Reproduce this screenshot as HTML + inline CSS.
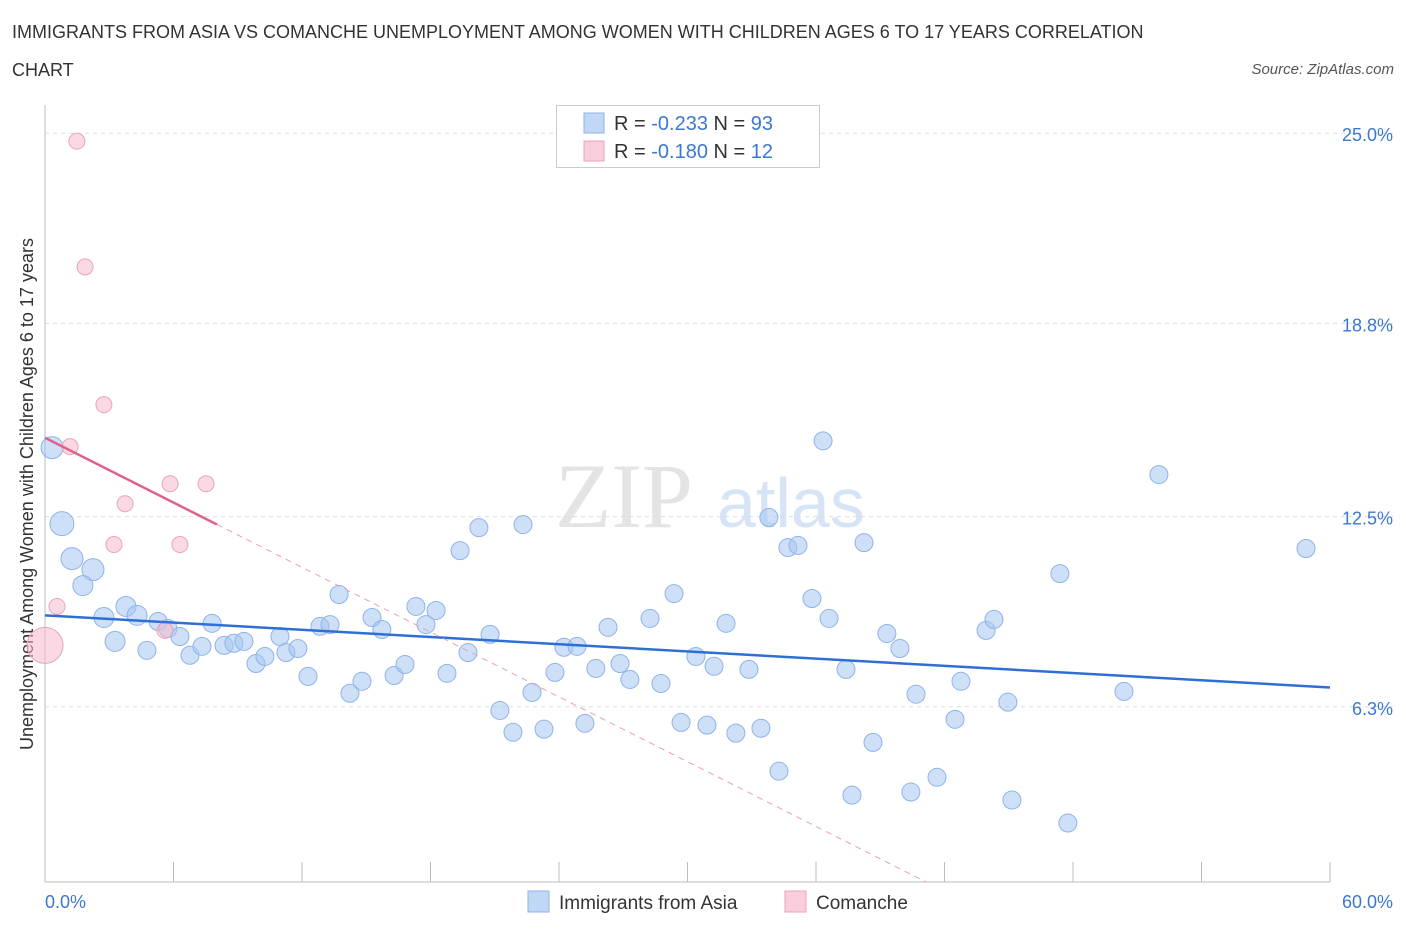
<!DOCTYPE html>
<html><head><meta charset="utf-8">
<style>
body{margin:0;background:#fff;font-family:"Liberation Sans",sans-serif;}
#wrap{position:relative;width:1406px;height:930px;overflow:hidden;}
.t{position:absolute;color:#333;font-size:18px;}
</style></head>
<body>
<div id="wrap">
<div class="t" style="left:12px;top:22px;">IMMIGRANTS FROM ASIA VS COMANCHE UNEMPLOYMENT AMONG WOMEN WITH CHILDREN AGES 6 TO 17 YEARS CORRELATION</div>
<div class="t" style="left:12px;top:60px;">CHART</div>
<div class="t" style="right:12px;top:61px;font-size:15px;font-style:italic;color:#555;">Source: ZipAtlas.com</div>
<svg id="svg" width="1406" height="930" style="position:absolute;left:0;top:0"></svg>
</div>
<script>
const blueX=[0.33,0.79,1.26,2.24,1.77,2.75,3.27,3.78,4.30,4.76,5.28,5.74,6.30,6.77,7.33,7.80,8.36,8.82,9.29,9.85,10.27,10.97,11.25,11.81,12.28,12.84,13.31,13.73,14.24,14.80,15.27,15.73,16.30,16.81,17.32,17.79,18.26,18.77,19.38,19.75,20.26,20.78,21.24,21.85,22.32,22.74,23.30,23.81,24.23,24.84,25.21,25.72,26.29,26.85,27.31,28.25,28.76,29.37,29.70,30.39,30.91,31.24,31.80,32.26,32.87,33.43,33.80,34.27,34.69,35.16,35.81,36.33,36.61,37.40,37.68,38.24,38.66,39.31,39.92,40.43,40.67,41.65,42.49,42.77,43.94,44.31,44.96,45.15,47.39,47.76,50.38,52.01,58.88];
const blueY=[14.75,12.27,11.13,10.77,10.25,9.21,8.43,9.57,9.28,8.14,9.08,8.85,8.59,7.98,8.27,9.02,8.30,8.37,8.43,7.71,7.94,8.59,8.07,8.20,7.29,8.92,8.98,9.96,6.74,7.13,9.21,8.82,7.32,7.68,9.57,8.98,9.44,7.39,11.39,8.07,12.14,8.66,6.18,5.47,12.24,6.77,5.57,7.42,8.24,8.27,5.76,7.55,8.89,7.71,7.19,9.18,7.06,9.99,5.79,7.94,5.70,7.62,9.02,5.44,7.52,5.60,12.47,4.20,11.49,11.56,9.83,14.97,9.18,7.52,3.42,11.65,5.14,8.69,8.20,3.52,6.71,4.00,5.89,7.13,8.79,9.15,6.45,3.26,10.64,2.51,6.80,13.87,11.46];
const blueR=[11,12,11,11,10,10,10,10,10,9,9,9,9,9,9,9,9,9,9,9,9,9,9,9,9,9,9,9,9,9,9,9,9,9,9,9,9,9,9,9,9,9,9,9,9,9,9,9,9,9,9,9,9,9,9,9,9,9,9,9,9,9,9,9,9,9,9,9,9,9,9,9,9,9,9,9,9,9,9,9,9,9,9,9,9,9,9,9,9,9,9,9,9];
const pinkX=[1.49,1.87,2.75,1.17,5.84,7.52,3.74,3.22,6.30,0.56,5.60,0.0];
const pinkY=[24.74,20.64,16.15,14.78,13.57,13.57,12.92,11.59,11.59,9.57,8.79,8.30];
const pinkR=[8,8,8,8,8,8,8,8,8,8,8,18];
const yTicks=[25.0,18.8,12.5,6.3];
const yTickLabels=["25.0%","18.8%","12.5%","6.3%"];
const blueTrend=[9.28,6.93];
const pinkTrend=[15.07,-0.352];
const X0=45,X1=1330,YB=882;
const sx=v=>X0+(v/60)*(X1-X0);
const sy=v=>900-v/6.25*191.7;
const svg=document.getElementById('svg');
const NS='http://www.w3.org/2000/svg';
function mk(tag,at){const e=document.createElementNS(NS,tag);for(const k in at)e.setAttribute(k,at[k]);svg.appendChild(e);return e;}
// watermark
let w=mk('text',{x:555,y:527,'font-size':92,'font-family':'Liberation Serif',fill:'#e4e4e4'});w.textContent='ZIP';

w=mk('text',{x:717,y:527,'font-size':70,'font-family':'Liberation Sans',fill:'#d6e4f5'});w.textContent='atlas';

// grid + y labels
yTicks.forEach((t,i)=>{const y=sy(t)-(i==1?0:0);
 const g=mk('line',{x1:X0,x2:1395,y1:y,y2:y,stroke:'#ddd','stroke-dasharray':'4,4'});
 
 const l=mk('text',{x:1393,y:y+8,'text-anchor':'end','font-size':18,fill:'#3b78d4'});l.textContent=yTickLabels[i];
 });
// axes
let a=mk('line',{x1:X0,x2:X0,y1:105,y2:YB,stroke:'#bbb'});
a=mk('line',{x1:X0,x2:X1,y1:YB,y2:YB,stroke:'#bbb'});
for(let i=0;i<=10;i++){const x=sx(i*6);const t=mk('line',{x1:x,x2:x,y1:862,y2:YB,stroke:'#bbb'});}
let xl=mk('text',{x:45,y:908,'font-size':18,fill:'#3b78d4'});xl.textContent='0.0%';
xl=mk('text',{x:1393,y:908,'font-size':18,fill:'#3b78d4','text-anchor':'end'});xl.textContent='60.0%';
let yt=mk('text',{x:0,y:0,'font-size':18,fill:'#333','text-anchor':'middle',transform:'translate(33,494) rotate(-90)'});yt.textContent='Unemployment Among Women with Children Ages 6 to 17 years';

// points
blueX.forEach((v,i)=>{const c=mk('circle',{cx:sx(v),cy:sy(blueY[i]),r:blueR[i],fill:'rgba(165,198,242,0.55)',stroke:'#8fb3e6','stroke-width':1});
 });
pinkX.forEach((v,i)=>{const c=mk('circle',{cx:sx(v),cy:sy(pinkY[i]),r:pinkR[i],fill:'rgba(247,185,205,0.55)',stroke:'#eaa3bb','stroke-width':1});
 });
// trends
let tl=mk('line',{x1:sx(0),y1:sy(blueTrend[0]),x2:sx(60),y2:sy(blueTrend[1]),stroke:'#2e6fd6','stroke-width':2.5});

const pe=(YB>0)?( (900-YB)/191.7*6.25 ):0;
const xEnd=(pinkTrend[0]-pe)/(-pinkTrend[1]);
tl=mk('line',{x1:sx(8.03),y1:sy(pinkTrend[0]+pinkTrend[1]*8.03),x2:sx(xEnd),y2:sy(pe),stroke:'#e8a0b8','stroke-width':1,'stroke-dasharray':'6,5'});

tl=mk('line',{x1:sx(0),y1:sy(pinkTrend[0]),x2:sx(8.03),y2:sy(pinkTrend[0]+pinkTrend[1]*8.03),stroke:'#e0608e','stroke-width':2.5});

// top legend
let b=mk('rect',{x:556.5,y:105.5,width:263,height:62,fill:'#fff',stroke:'#ccc'});
[['rgba(165,198,242,0.7)','#8fb3e6','-0.233','93',123],['rgba(247,185,205,0.7)','#eaa3bb','-0.180','12',151]].forEach((r,i)=>{
 const s=mk('rect',{x:584,y:r[4]-10,width:20,height:20,fill:r[0],stroke:r[1]});
 const t=mk('text',{x:614,y:r[4]+7,'font-size':20,fill:'#333'});
 t.innerHTML='R = <tspan fill="#3b78d4">'+r[2]+'</tspan>   N = <tspan fill="#3b78d4">'+(r[3].length<3&&i==1?' ':'')+r[3]+'</tspan>';
 t.setAttribute('xml:space','preserve');
 });
// bottom legend
[['rgba(165,198,242,0.7)','#8fb3e6','Immigrants from Asia',528,'legend-asia'],['rgba(247,185,205,0.7)','#eaa3bb','Comanche',785,'legend-comanche']].forEach(r=>{
 const s=mk('rect',{x:r[3],y:891,width:21,height:21,fill:r[0],stroke:r[1]});
 const t=mk('text',{x:r[3]+31,y:909,'font-size':19,fill:'#333'});t.textContent=r[2];
 });
</script>
</body></html>
